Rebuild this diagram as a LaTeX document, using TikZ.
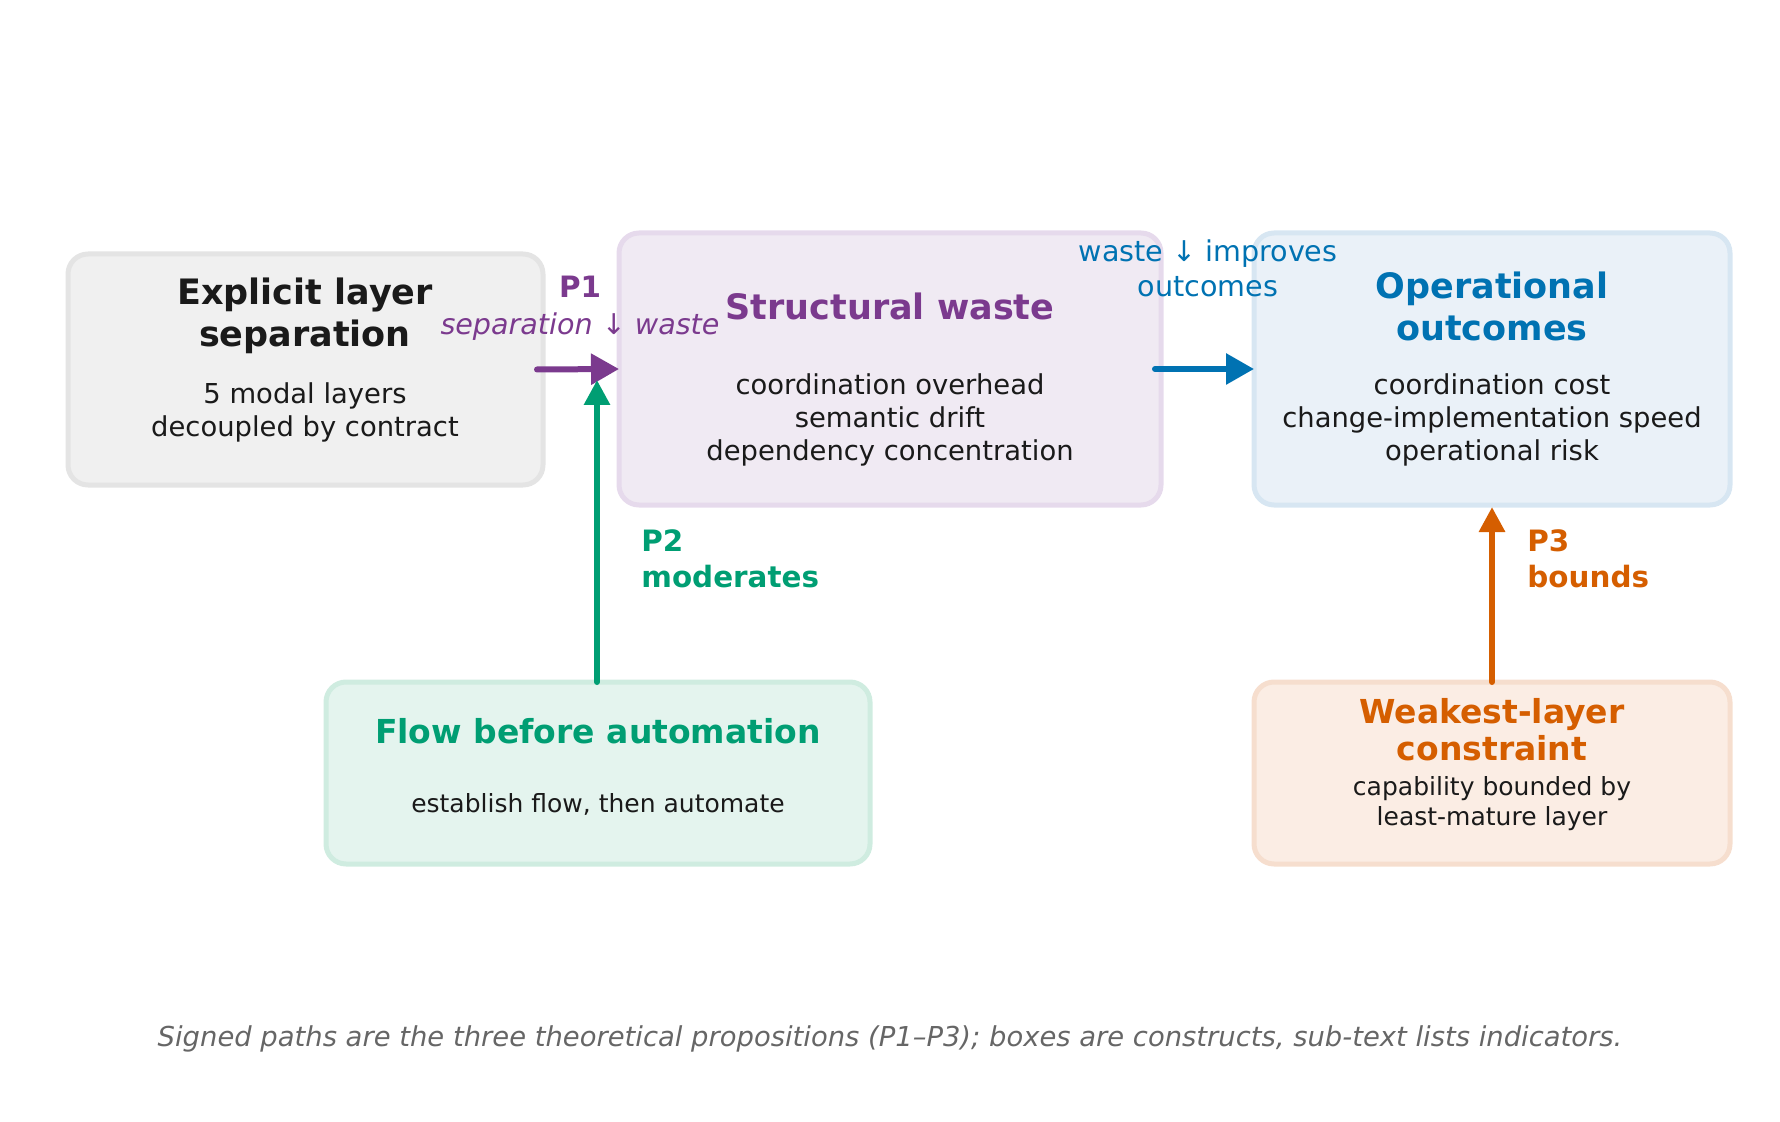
\documentclass[tikz,border=0pt]{standalone}
\usepackage{fontspec}
\setmainfont{DejaVu Sans}
\usetikzlibrary{arrows.meta}
\definecolor{cpurple}{HTML}{7B3A8E}
\definecolor{cblue}{HTML}{0072B2}
\definecolor{cgreen}{HTML}{009E73}
\definecolor{corange}{HTML}{D55E00}
\definecolor{ctext}{HTML}{1A1A1A}
\definecolor{ccap}{HTML}{666666}
\definecolor{fgray}{HTML}{F0F0F0}\definecolor{dgray}{HTML}{E4E4E4}
\definecolor{fpurple}{HTML}{F0EAF3}\definecolor{dpurple}{HTML}{E6DAEC}
\definecolor{fblue}{HTML}{EAF1F8}\definecolor{dblue}{HTML}{D7E6F2}
\definecolor{fgreen}{HTML}{E4F4EE}\definecolor{dgreen}{HTML}{CFECE0}
\definecolor{forange}{HTML}{FBEDE4}\definecolor{dorange}{HTML}{F6DECE}
\begin{document}
\begin{tikzpicture}[x=0.5pt,y=-0.5pt,
  box/.style={draw, rounded corners=10pt, line width=2.5pt, inner sep=0pt, outer sep=0pt},
  ttl/.style={align=center, inner sep=0pt, font=\bfseries\fontsize{17.5}{21}\selectfont},
  ttls/.style={align=center, inner sep=0pt, font=\bfseries\fontsize{16.5}{18.5}\selectfont},
  body/.style={align=center, inner sep=0pt, text=ctext, font=\fontsize{13.7}{16.5}\selectfont},
  bodys/.style={align=center, inner sep=0pt, text=ctext, font=\fontsize{12.5}{15}\selectfont},
  lbl/.style={inner sep=0pt, font=\fontsize{14.3}{17.5}\selectfont},
  plbl/.style={inner sep=0pt, align=left, anchor=west, font=\bfseries\fontsize{14.7}{18}\selectfont},
  harr/.style={line width=3pt, line cap=round, -{Triangle[length=14pt,width=15pt]}},
  varr/.style={line width=3pt, line cap=round, -{Triangle[length=12.5pt,width=12.5pt]}}]
\useasboundingbox (0,0) rectangle (1780,1122);

% boxes
\node[box, fill=fgray, draw=dgray, minimum width=237.5pt, minimum height=115.5pt] (b1) at (305.5,369.5) {};
\node[box, fill=fpurple, draw=dpurple, minimum width=271pt, minimum height=136pt] (b2) at (890,369) {};
\node[box, fill=fblue, draw=dblue, minimum width=238pt, minimum height=136pt] (b3) at (1492,369) {};
\node[box, fill=fgreen, draw=dgreen, minimum width=272pt, minimum height=91pt] (b4) at (598,773) {};
\node[box, fill=forange, draw=dorange, minimum width=238pt, minimum height=91pt] (b5) at (1492,773) {};

% box texts
\node[ttl, text=ctext] (t1) at (305,316) {Explicit layer\\separation};
\node[body] (s1) at (305,412.5) {5 modal layers\\decoupled by contract};
\node[ttl, text=cpurple] (t2) at (890,306) {Structural waste};
\node[body] (s2) at (890,420) {coordination overhead\\semantic drift\\dependency concentration};
\node[ttl, text=cblue] (t3) at (1492,306) {Operational\\outcomes};
\node[body] (s3) at (1492,420) {coordination cost\\change-implementation speed\\operational risk};
\node[ttls, text=cgreen] (t4) at (598,731) {Flow before automation};
\node[bodys] (s4) at (598,804) {establish flow, then automate};
\node[ttls, text=corange] (t5) at (1492,730) {Weakest-layer\\constraint};
\node[bodys] (s5) at (1492,804) {capability bounded by\\least-mature layer};

% connectors
\coordinate (p2tip) at (597,380);
\draw[harr, cpurple] ([xshift=-3pt]b1.east) -- (b2.west);
\draw[harr, cblue] ([xshift=-3pt]b2.east) -- (b3.west);
\draw[varr, cgreen] (b4.north -| p2tip) -- (p2tip);
\draw[varr, corange] (b5.north) -- ([yshift=-1pt]b3.south);

% labels
\node[lbl, text=cpurple, font=\bfseries\fontsize{14.7}{18}\selectfont] (p1) at (580,287) {P1};
\node[lbl, text=cpurple, font=\itshape\fontsize{14.3}{17.5}\selectfont] (p1s) at (580,327) {separation ↓ waste};
\node[lbl, text=cblue, align=center] (l2) at (1208,268.5) {waste ↓ improves\\outcomes};
\node[plbl, text=cgreen] (p2) at (641,559) {P2\\moderates};
\node[plbl, text=corange] (p3) at (1527,559) {P3\\bounds};

% caption
\node[inner sep=0pt, text=ccap, font=\itshape\fontsize{13.7}{16}\selectfont] (cap) at (890,1039) {Signed paths are the three theoretical propositions (P1–P3); boxes are constructs, sub-text lists indicators.};
\end{tikzpicture}
\end{document}
